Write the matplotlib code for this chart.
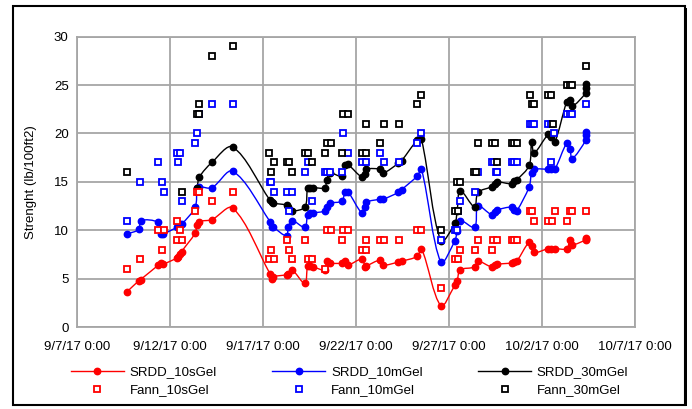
import numpy as np
import pandas as pd
import matplotlib
matplotlib.use("Agg")
import matplotlib.pyplot as plt
import matplotlib.dates as mdates
from matplotlib.path import Path
from matplotlib.patches import PathPatch, Rectangle
from matplotlib.lines import Line2D
from matplotlib.ticker import FuncFormatter

plt.rcParams['font.family'] = ['Liberation Sans', 'DejaVu Sans']

# SRDD measurement times (shared by the three SRDD series)
srdd_time = ['2017-09-09 16:00', '2017-09-10 08:00', '2017-09-10 10:00', '2017-09-11 09:00',
             '2017-09-11 12:00', '2017-09-11 15:00', '2017-09-12 08:30', '2017-09-12 10:30',
             '2017-09-12 13:00', '2017-09-12 15:00', '2017-09-13 08:30', '2017-09-13 11:00',
             '2017-09-13 14:00', '2017-09-14 06:00', '2017-09-15 09:00', '2017-09-17 09:00',
             '2017-09-17 11:00', '2017-09-17 13:00', '2017-09-18 06:30', '2017-09-18 08:30',
             '2017-09-18 13:30', '2017-09-19 06:00', '2017-09-19 09:30', '2017-09-19 12:30',
             '2017-09-19 17:00', '2017-09-20 08:00', '2017-09-20 10:00', '2017-09-20 14:30',
             '2017-09-21 05:30', '2017-09-21 10:00', '2017-09-21 13:30', '2017-09-22 07:20',
             '2017-09-22 12:00', '2017-09-22 13:30', '2017-09-23 07:00', '2017-09-23 11:00',
             '2017-09-24 06:30', '2017-09-24 11:00', '2017-09-25 07:00', '2017-09-25 12:30',
             '2017-09-26 13:30', '2017-09-27 07:30', '2017-09-27 10:30', '2017-09-27 14:30',
             '2017-09-28 09:00', '2017-09-28 13:30', '2017-09-29 07:00', '2017-09-29 11:30',
             '2017-09-29 14:00', '2017-09-30 09:00', '2017-09-30 12:30', '2017-09-30 15:30',
             '2017-10-01 07:30', '2017-10-01 10:30', '2017-10-01 14:00', '2017-10-02 08:00',
             '2017-10-02 11:30', '2017-10-02 16:30', '2017-10-03 08:00', '2017-10-03 12:00',
             '2017-10-03 15:00', '2017-10-04 08:30', '2017-10-04 08:45', '2017-10-04 09:00']

srdd_10s = [3.6, 4.8, 4.9, 6.4, 6.6, 6.5, 7.1, 7.2, 7.5, 7.8, 9.7, 10.5, 10.9, 11.1, 12.3,
            5.5, 5.0, 5.2, 5.4, 5.5, 5.9, 4.5, 6.3, 6.3, 6.2, 5.9, 6.8, 6.6, 6.6, 6.8, 6.4,
            7.0, 6.2, 6.3, 6.9, 6.4, 6.7, 6.8, 7.3, 8.1, 2.2, 4.3, 4.8, 5.9, 6.2, 6.8, 6.2,
            6.4, 6.5, 6.6, 6.7, 6.8, 8.8, 8.4, 7.7, 8.1, 8.1, 8.1, 8.1, 9.0, 8.5, 9.0, 9.1, 9.2]

srdd_10m = [9.6, 10.1, 11.0, 10.8, 9.6, 9.6, 10.3, 10.5, 10.6, 10.6, 12.4, 14.4, 14.5, 14.4, 16.1,
            10.9, 10.3, 10.3, 9.4, 10.3, 11.0, 10.3, 11.6, 11.8, 11.8, 12.0, 12.4, 12.8, 13.0,
            13.9, 14.0, 11.8, 12.4, 12.9, 13.2, 13.2, 13.9, 14.2, 15.6, 16.3, 6.7, 8.9, 9.9,
            11.0, 10.3, 12.5, 11.6, 11.9, 12.1, 12.4, 12.1, 12.0, 14.5, 15.9, 16.3, 16.3, 16.3,
            16.3, 19.0, 18.4, 17.4, 19.3, 19.8, 20.2]

srdd_30m = [np.nan] * 11 + [14.4, 15.5, 17.0, 18.6,
            13.1, 12.9, 12.8, 12.6, 12.4, 12.0, 12.4, 14.4, 14.4, 14.4, 14.4, 15.2, 15.9, 15.6,
            16.7, 16.8, 15.5, 15.8, 16.3, 16.3, 15.9, 16.9, 17.2, 19.3, 19.4, 8.9, 10.7, 12.0,
            14.1, 12.4, 13.9, 14.5, 14.8, 15.0, 14.8, 15.1, 15.2, 16.7, 19.1, 18.0, 19.9, 19.6,
            19.1, 23.3, 23.5, 22.8, 24.2, 24.7, 25.1]

# Fann viscometer readings
fann_10s_time = ['2017-09-09 16:00', '2017-09-10 09:00', '2017-09-11 09:00', '2017-09-11 13:30',
                 '2017-09-11 16:00', '2017-09-12 08:30', '2017-09-12 08:30', '2017-09-12 13:00',
                 '2017-09-12 15:00', '2017-09-13 08:30', '2017-09-13 10:30', '2017-09-13 14:00',
                 '2017-09-14 06:00', '2017-09-15 09:00', '2017-09-17 08:00', '2017-09-17 10:00',
                 '2017-09-17 14:00', '2017-09-18 07:00', '2017-09-18 10:00', '2017-09-18 13:00',
                 '2017-09-19 06:00', '2017-09-19 09:30', '2017-09-19 15:30', '2017-09-20 08:00',
                 '2017-09-20 10:00', '2017-09-20 15:30', '2017-09-21 05:30', '2017-09-21 07:30',
                 '2017-09-21 13:30', '2017-09-22 07:20', '2017-09-22 12:30', '2017-09-22 12:30',
                 '2017-09-23 07:00', '2017-09-23 12:30', '2017-09-24 07:30', '2017-09-25 07:00',
                 '2017-09-25 12:30', '2017-09-26 13:30', '2017-09-27 07:30', '2017-09-27 12:00',
                 '2017-09-27 14:30', '2017-09-28 09:00', '2017-09-28 14:00', '2017-09-29 07:00',
                 '2017-09-29 09:00', '2017-09-29 13:30', '2017-09-30 09:00', '2017-09-30 12:30',
                 '2017-09-30 15:30', '2017-10-01 08:00', '2017-10-01 11:00', '2017-10-01 14:00',
                 '2017-10-02 08:00', '2017-10-02 12:30', '2017-10-02 16:30', '2017-10-03 08:00',
                 '2017-10-03 12:00', '2017-10-03 15:00', '2017-10-04 08:30']
fann_10s = [6, 7, 10, 8, 10, 11, 9, 10, 9, 12, 14, 14, 13, 14, 7, 8, 7, 9, 8, 7, 9, 7, 7, 6,
            10, 10, 9, 10, 10, 8, 8, 9, 9, 9, 9, 10, 10, 4, 7, 7, 8, 8, 9, 8, 9, 9, 9, 9, 9,
            12, 12, 11, 11, 11, 12, 11, 12, 12, 12]

fann_10m_time = ['2017-09-09 16:00', '2017-09-10 09:00', '2017-09-11 09:00', '2017-09-11 13:30',
                 '2017-09-11 16:00', '2017-09-12 08:30', '2017-09-12 10:30', '2017-09-12 13:00',
                 '2017-09-12 15:00', '2017-09-13 08:30', '2017-09-13 11:00', '2017-09-13 14:00',
                 '2017-09-14 06:00', '2017-09-15 09:00', '2017-09-17 09:00', '2017-09-17 10:00',
                 '2017-09-17 14:00', '2017-09-18 06:30', '2017-09-18 10:00', '2017-09-18 13:00',
                 '2017-09-19 06:00', '2017-09-19 09:30', '2017-09-19 15:30', '2017-09-20 08:00',
                 '2017-09-20 10:00', '2017-09-20 14:30', '2017-09-21 05:30', '2017-09-21 07:30',
                 '2017-09-21 13:30', '2017-09-22 07:20', '2017-09-22 12:30', '2017-09-23 07:00',
                 '2017-09-23 12:00', '2017-09-24 07:30', '2017-09-25 07:00', '2017-09-25 12:30',
                 '2017-09-26 13:30', '2017-09-27 07:30', '2017-09-27 10:00', '2017-09-27 11:30',
                 '2017-09-27 14:30', '2017-09-28 09:00', '2017-09-28 13:00', '2017-09-29 07:00',
                 '2017-09-29 10:00', '2017-09-29 12:00', '2017-09-29 13:30', '2017-09-30 09:00',
                 '2017-09-30 12:00', '2017-09-30 15:30', '2017-10-01 08:00', '2017-10-01 11:00',
                 '2017-10-01 14:00', '2017-10-02 08:00', '2017-10-02 11:30', '2017-10-02 12:00',
                 '2017-10-02 16:00', '2017-10-03 08:00', '2017-10-03 12:00', '2017-10-03 15:00',
                 '2017-10-04 08:30']
fann_10m = [11, 15, 17, 15, 14, 18, 17, 18, 13, 19, 20, 22, 23, 23, 15, 15, 14, 14, 12, 14,
            16, 17, 13, 16, 16, 16, 16, 20, 18, 17, 17, 18, 17, 17, 19, 20, 9, 10, 10, 12, 13,
            14, 16, 17, 17, 16, 16, 17, 17, 17, 21, 21, 21, 21, 21, 17, 20, 22, 22, 22, 23]

fann_30m_time = ['2017-09-09 16:00', '2017-09-12 15:00', '2017-09-13 10:30', '2017-09-13 13:00',
                 '2017-09-13 14:00', '2017-09-14 06:00', '2017-09-15 09:00', '2017-09-17 08:00',
                 '2017-09-17 10:30', '2017-09-17 14:00', '2017-09-18 06:30', '2017-09-18 10:00',
                 '2017-09-18 13:00', '2017-09-19 06:00', '2017-09-19 10:00', '2017-09-19 15:30',
                 '2017-09-20 08:00', '2017-09-20 10:00', '2017-09-20 15:30', '2017-09-21 05:30',
                 '2017-09-21 07:30', '2017-09-21 13:30', '2017-09-22 07:20', '2017-09-22 12:30',
                 '2017-09-22 13:30', '2017-09-23 07:00', '2017-09-23 12:30', '2017-09-24 07:30',
                 '2017-09-25 07:00', '2017-09-25 12:30', '2017-09-26 13:30', '2017-09-27 07:30',
                 '2017-09-27 12:00', '2017-09-27 10:00', '2017-09-27 14:30', '2017-09-28 08:30',
                 '2017-09-28 11:00', '2017-09-28 13:30', '2017-09-29 07:00', '2017-09-29 11:30',
                 '2017-09-29 13:30', '2017-09-30 09:00', '2017-09-30 12:30', '2017-09-30 15:30',
                 '2017-10-01 08:00', '2017-10-01 11:00', '2017-10-01 14:00', '2017-10-02 08:00',
                 '2017-10-02 11:30', '2017-10-02 14:00', '2017-10-03 08:00', '2017-10-03 12:00',
                 '2017-10-03 15:00', '2017-10-04 08:30']
fann_30m = [16, 14, 22, 22, 23, 28, 29, 18, 16, 17, 17, 17, 16, 18, 18, 17, 18, 19, 19, 18,
            22, 22, 18, 21, 18, 19, 21, 21, 23, 24, 10, 12, 12, 15, 15, 16, 16, 19, 19, 19,
            17, 19, 19, 19, 24, 23, 23, 24, 24, 21, 25, 25, 25, 27]


def to_num(times):
    return mdates.date2num(pd.to_datetime(times).to_pydatetime())


def smooth_path(x, y, sx=18.6, sy=9.67):
    # Excel-like smoothed line (cubic Bezier through the points)
    p = np.column_stack([x, y])
    q = p * [sx, sy]
    n = len(p)
    verts = [p[0]]
    codes = [Path.MOVETO]
    for i in range(n - 1):
        i0 = max(i - 1, 0)
        i3 = min(i + 2, n - 1)
        d01 = np.hypot(*(q[i] - q[i0]))
        d12 = np.hypot(*(q[i + 1] - q[i]))
        d23 = np.hypot(*(q[i3] - q[i + 1]))
        c1 = p[i] + (p[i + 1] - p[i0]) * d12 / (3 * (d01 + d12))
        c2 = p[i + 1] - (p[i3] - p[i]) * d12 / (3 * (d12 + d23))
        verts += [c1, c2, p[i + 1]]
        codes += [Path.CURVE4] * 3
    return Path(verts, codes)


fig = plt.figure(figsize=(6.92, 4.09), dpi=100)
ax = fig.add_axes([77 / 692, 82 / 409, 558 / 692, 290.3 / 409])

t_srdd = to_num(srdd_time)
for vals, col in [(srdd_10s, 'red'), (srdd_10m, 'blue'), (srdd_30m, 'black')]:
    v = np.array(vals, dtype=float)
    ok = ~np.isnan(v)
    ax.add_patch(PathPatch(smooth_path(t_srdd[ok], v[ok]), fill=False,
                           edgecolor=col, lw=1.0, zorder=3))
    ax.plot(t_srdd[ok], v[ok], ls='none', marker='o', ms=4.6, color=col, zorder=4)

for tt, vals, col in [(fann_10s_time, fann_10s, 'red'), (fann_10m_time, fann_10m, 'blue'),
                      (fann_30m_time, fann_30m, 'black')]:
    ax.plot(to_num(tt), vals, ls='none', marker='s', ms=4.3, mew=1.3,
            mfc='white', mec=col, zorder=5)

ax.set_xlim(mdates.date2num(pd.Timestamp('2017-09-07')), mdates.date2num(pd.Timestamp('2017-10-07')))
ax.set_ylim(0, 30)
ax.set_xticks(to_num(pd.date_range('2017-09-07', '2017-10-07', freq='5D')))
ax.set_yticks(range(0, 31, 5))
ax.xaxis.set_major_formatter(FuncFormatter(
    lambda v, pos: (lambda d: f"{d.month}/{d.day}/{d.year % 100} {d.hour}:{d.minute:02d}")(mdates.num2date(v))))
ax.tick_params(length=0, labelsize=9.5, pad=10)
ax.tick_params(axis='y', pad=6)
ax.grid(True, color='#a6a6a6', lw=1.3)
ax.set_axisbelow(True)
for s in ax.spines.values():
    s.set_color('#a6a6a6')
    s.set_linewidth(1.3)
ax.set_ylabel('Strenght (lb/100ft2)', fontsize=9.5, labelpad=12)

handles = [
    Line2D([], [], color='red', marker='o', ms=4.6, lw=1.0),
    Line2D([], [], ls='none', marker='s', ms=4.3, mew=1.3, mfc='white', mec='red'),
    Line2D([], [], color='blue', marker='o', ms=4.6, lw=1.0),
    Line2D([], [], ls='none', marker='s', ms=4.3, mew=1.3, mfc='white', mec='blue'),
    Line2D([], [], color='black', marker='o', ms=4.6, lw=1.0),
    Line2D([], [], ls='none', marker='s', ms=4.3, mew=1.3, mfc='white', mec='black'),
]
labels = ['SRDD_10sGel', 'Fann_10sGel', 'SRDD_10mGel', 'Fann_10mGel', 'SRDD_30mGel', 'Fann_30mGel']
fig.legend(handles, labels, ncol=3, loc='upper left', bbox_to_anchor=(71 / 692, 1 - 366 / 409),
           frameon=False, fontsize=9.5, handlelength=4.0, handletextpad=0.45,
           columnspacing=4.2, labelspacing=0.45, borderpad=0, borderaxespad=0)

# outer chart border, with a heavier right edge
fig.patches.append(Rectangle((13 / 692, 1 - 405 / 409), 672 / 692, 399 / 409,
                             transform=fig.transFigure, fill=False, ec='black', lw=1.5))
fig.patches.append(Rectangle((684 / 692, 1 - 406 / 409), 3 / 692, 398 / 409,
                             transform=fig.transFigure, fill=True, fc='black', ec='none'))

fig.savefig('out.png', dpi=100)
